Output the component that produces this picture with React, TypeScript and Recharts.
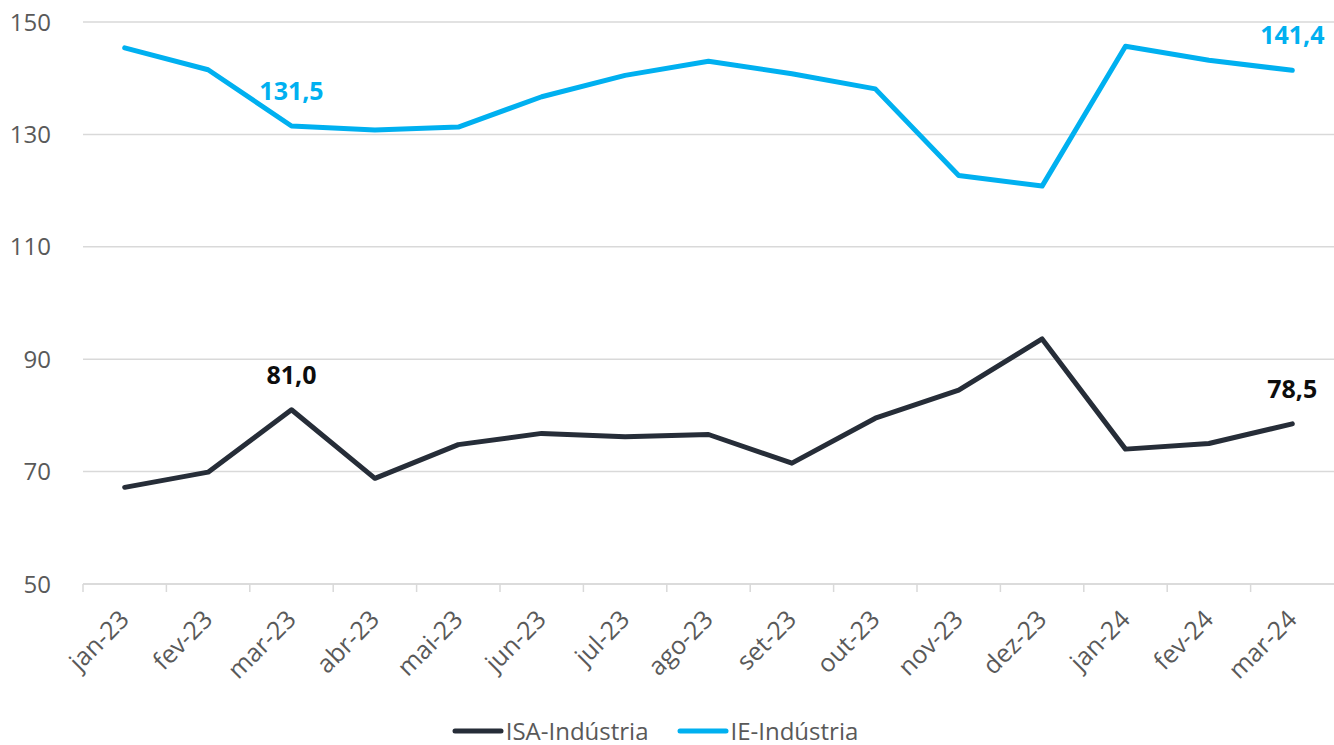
import { CartesianGrid, Legend, Line, LineChart, XAxis, YAxis } from "recharts";

const months = [
  "jan-23", "fev-23", "mar-23", "abr-23", "mai-23", "jun-23", "jul-23", "ago-23",
  "set-23", "out-23", "nov-23", "dez-23", "jan-24", "fev-24", "mar-24",
];
const isaIndustria = [67.2, 69.9, 81.0, 68.8, 74.8, 76.8, 76.2, 76.6, 71.5, 79.5, 84.5, 93.6, 74.0, 75.0, 78.5];
const ieIndustria = [145.4, 141.5, 131.5, 130.8, 131.3, 136.7, 140.5, 143.0, 140.8, 138.1, 122.7, 120.8, 145.7, 143.2, 141.4];
const labelledMonths = ["mar-23", "mar-24"];
const yTicks = [50, 70, 90, 110, 130, 150];

const ISA_COLOR = "#262d38";
const IE_COLOR = "#00b0f0";
const FONT = "'Open Sans', sans-serif";

const data = months.map((m, i) => ({ month: m, isa: isaIndustria[i], ie: ieIndustria[i] }));

const fmt = (v: number) => v.toFixed(1).replace(".", ",");

function MonthTick(props: any) {
  const { x, y, payload } = props;
  const half = payload.offset ?? 41.7;
  const tx = x + 6;
  const ty = y + 29;
  return (
    <g>
      <line x1={x - half} x2={x - half} y1={y - 8} y2={y} stroke="#d9d9d9" strokeWidth={1.5} />
      <text
        x={tx}
        y={ty}
        transform={`rotate(-45, ${tx}, ${ty})`}
        textAnchor="end"
        fill="#595959"
        fontSize={25}
        fontFamily={FONT}
      >
        {payload.value}
      </text>
    </g>
  );
}

const pointLabel = (color: string) => (props: any) => {
  const { x, y, value, index } = props;
  if (!labelledMonths.includes(months[index])) return null;
  return (
    <text
      key={index}
      x={x}
      y={y - 26}
      textAnchor="middle"
      fill={color}
      fontSize={25}
      fontWeight={700}
      fontFamily={FONT}
    >
      {fmt(value)}
    </text>
  );
};

function LegendRow() {
  const items = [
    { name: "ISA-Indústria", color: ISA_COLOR },
    { name: "IE-Indústria", color: IE_COLOR },
  ];
  return (
    <div
      style={{
        height: 45,
        display: "flex",
        justifyContent: "center",
        alignItems: "flex-end",
        gap: 28,
        paddingRight: 24,
        fontFamily: FONT,
        fontSize: 24,
        color: "#595959",
      }}
    >
      {items.map((it) => (
        <div key={it.name} style={{ display: "flex", alignItems: "center", lineHeight: "28px" }}>
          <svg width={52} height={10} style={{ marginRight: 2 }}>
            <line x1={3} x2={49} y1={5} y2={5} stroke={it.color} strokeWidth={5} strokeLinecap="round" />
          </svg>
          {it.name}
        </div>
      ))}
    </div>
  );
}

export default function App() {
  return (
    <div style={{ position: "absolute", top: 0, left: 0, width: 1334, height: 745, background: "#fff" }}>
      <LineChart width={1334} height={745} data={data} margin={{ top: 22, right: 0, bottom: 0, left: 0 }}>
        <CartesianGrid vertical={false} stroke="#d9d9d9" strokeWidth={1.5} />
        <XAxis
          dataKey="month"
          scale="band"
          height={116}
          interval={0}
          axisLine={{ stroke: "#d9d9d9", strokeWidth: 1.5 }}
          tickLine={false}
          tick={<MonthTick />}
        />
        <YAxis
          domain={[50, 150]}
          ticks={yTicks}
          width={83}
          axisLine={false}
          tickLine={false}
          tickMargin={26}
          tick={{ fill: "#595959", fontSize: 24, fontFamily: FONT }}
        />
        <Legend verticalAlign="bottom" content={<LegendRow />} wrapperStyle={{ bottom: 0 }} />
        <Line
          dataKey="isa"
          name="ISA-Indústria"
          stroke={ISA_COLOR}
          strokeWidth={5}
          dot={false}
          strokeLinejoin="round"
          strokeLinecap="round"
          isAnimationActive={false}
          label={pointLabel("#0d0d0d")}
        />
        <Line
          dataKey="ie"
          name="IE-Indústria"
          stroke={IE_COLOR}
          strokeWidth={5}
          dot={false}
          strokeLinejoin="round"
          strokeLinecap="round"
          isAnimationActive={false}
          label={pointLabel(IE_COLOR)}
        />
      </LineChart>
    </div>
  );
}
